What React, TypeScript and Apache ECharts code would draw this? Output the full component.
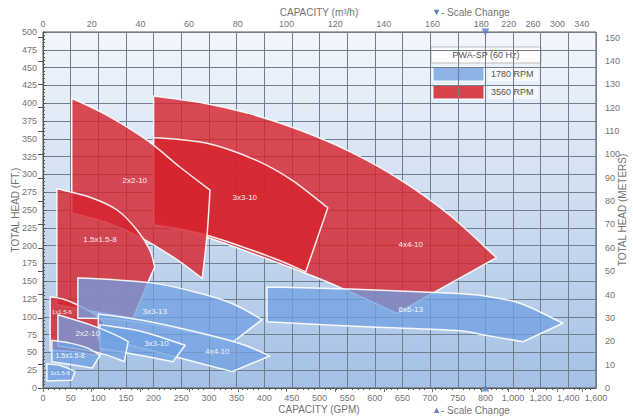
import React, { useEffect, useRef } from "react";
import * as echarts from "echarts";

const FONT = "'Liberation Sans', Arial, sans-serif";

// Bottom axis: GPM, with scale change at 800 (each 200 GPM = one column above 800)
const GPM_BREAK = 800;
const GPM_TICKS_LOW_STEP = 50;
// Top axis labels (m3/h)
const M3H_TICKS = [0, 20, 40, 60, 80, 100, 120, 140, 160, 180, 220, 260, 300, 340];
// Right axis labels (meters)
const METER_TICKS = [0, 10, 20, 30, 40, 50, 60, 70, 80, 90, 100, 110, 120, 130, 140, 150];

// 3560 RPM envelopes: [GPM, ft] (outline, clockwise from top-left)
const R_4x4_10 = [[200, 410], [285, 401], [375, 385], [465, 362], [555, 332], [645, 293], [735, 243], [880, 183], [640, 105], [535, 142], [465, 164], [375, 190], [295, 212], [200, 233]];
const R_3x3_10 = [[200, 352], [295, 344], [385, 320], [450, 292], [515, 253], [495, 208], [475, 163], [415, 183], [295, 215], [200, 229]];
const R_2x2_10 = [[52, 407], [116, 383], [188, 348], [248, 310], [302, 278], [297, 218], [288, 154], [235, 184], [175, 212], [116, 232], [52, 246]];
const R_15x15_8 = [[25, 280], [85, 268], [134, 250], [170, 222], [193, 194], [202, 170], [188, 145], [163, 98], [94, 107], [25, 117]];
const R_1x15_6 = [[13, 128], [40, 124], [67, 115], [94, 103], [110, 93], [107, 67], [103, 45], [58, 51], [13, 53]];

// 1780 RPM envelopes: [GPM, ft]
const B_6x6_13 = [[405, 142], [555, 139], [741, 133], [800, 129], [1050, 119], [1360, 91], [1072, 65], [800, 74], [741, 81], [555, 87], [405, 93]];
const B_3x3_13 = [[63, 155], [193, 148], [284, 133], [347, 117], [396, 96], [344, 65], [248, 82], [139, 96], [63, 98]];
const B_4x4_10 = [[100, 104], [193, 93], [302, 74], [365, 60], [410, 45], [342, 23], [248, 42], [157, 60], [100, 68]];
const B_3x3_10 = [[103, 89], [175, 80], [257, 60], [235, 37], [175, 46], [103, 56]];
const B_2x2_10 = [[27, 103], [85, 89], [130, 75], [154, 65], [147, 37], [103, 49], [27, 59]];
const B_15x15_8 = [[16, 67], [49, 63], [81, 56], [103, 46], [89, 28], [16, 37]];
const B_1x15_6 = [[7, 34], [34, 31], [58, 23], [52, 11], [7, 10]];

// corners: indices where the outline turns sharply (the rest is drawn smooth)
const RED_SHAPES = [
  { name: "4x4-10", pts: R_4x4_10, corners: [0, 7, 8, 13], label: [665, 201], size: 8 },
  { name: "3x3-10", pts: R_3x3_10, corners: [0, 4, 6, 9], label: [365, 267], size: 8 },
  { name: "2x2-10", pts: R_2x2_10, corners: [0, 4, 6, 10], label: [166, 292], size: 8 },
  { name: "1.5x1.5-8", pts: R_15x15_8, corners: [0, 5, 7, 9], label: [103, 208], size: 8 },
  { name: "1x1.5-6", pts: R_1x15_6, corners: [0, 4, 6, 8], label: [34, 107], size: 6 },
];
const BLUE_SHAPES = [
  { name: "6x6-13", pts: B_6x6_13, corners: [0, 5, 6, 10], label: [665, 110], size: 8 },
  { name: "3x3-13", pts: B_3x3_13, corners: [0, 4, 5, 8], label: [202, 107], size: 8 },
  { name: "4x4-10", pts: B_4x4_10, corners: [0, 4, 5, 8], label: [315, 51], size: 8 },
  { name: "3x3-10", pts: B_3x3_10, corners: [0, 2, 3, 5], label: [205, 63], size: 8 },
  { name: "2x2-10", pts: B_2x2_10, corners: [0, 3, 4, 6], label: [81, 76], size: 8 },
  { name: "1.5x1.5-8", pts: B_15x15_8, corners: [0, 3, 4, 5], label: [49, 46], size: 7 },
  { name: "1x1.5-6", pts: B_1x15_6, corners: [0, 2, 3, 4], label: [31, 21], size: 6 },
];

const gpmToAxis = (g: number) => (g <= GPM_BREAK ? g : GPM_BREAK + (g - GPM_BREAK) / 4);
const axisToGpm = (u: number) => (u <= GPM_BREAK ? u : GPM_BREAK + (u - GPM_BREAK) * 4);
const M3H_TO_GPM = 4.40287;
const FT_PER_M = 3.28084;

const fmt = (n: number) => {
  const r = Math.round(n);
  return r >= 1000 ? r.toString().replace(/\B(?=(\d{3})+(?!\d))/g, ",") : String(r);
};

const f2 = (p: number[]) => `${p[0].toFixed(2)},${p[1].toFixed(2)}`;

// Smooth outline (Catmull-Rom between corners) in pixel space
function buildPath(pts: number[][], corners: number[]) {
  const n = pts.length;
  let d = `M${f2(pts[0])}`;
  for (let c = 0; c < corners.length; c++) {
    const a = corners[c];
    const b = c + 1 < corners.length ? corners[c + 1] : n;
    const seg: number[][] = [];
    for (let i = a; i <= b; i++) seg.push(pts[i % n]);
    for (let i = 0; i < seg.length - 1; i++) {
      const p0 = seg[i - 1] || seg[i];
      const p1 = seg[i];
      const p2 = seg[i + 1];
      const p3 = seg[i + 2] || seg[i + 1];
      const c1 = [p1[0] + (p2[0] - p0[0]) / 6, p1[1] + (p2[1] - p0[1]) / 6];
      const c2 = [p2[0] - (p3[0] - p1[0]) / 6, p2[1] - (p3[1] - p1[1]) / 6];
      d += ` C${f2(c1)} ${f2(c2)} ${f2(p2)}`;
    }
  }
  return d + " Z";
}

function makeShapeSeries(shapes: any[], fill: string, stroke: string) {
  return {
    type: "custom",
    xAxisIndex: 0,
    yAxisIndex: 0,
    clip: true,
    data: shapes.map((s) => [gpmToAxis(s.label[0]), s.label[1]]),
    encode: { x: 0, y: 1 },
    renderItem: (params: any, api: any) => {
      const s = shapes[params.dataIndex];
      const points = s.pts.map((p: number[]) => api.coord([gpmToAxis(p[0]), p[1]]));
      const lp = api.coord([gpmToAxis(s.label[0]), s.label[1]]);
      return {
        type: "group",
        children: [
          {
            type: "path",
            shape: { pathData: buildPath(points, s.corners) },
            style: { fill, stroke, lineWidth: 1.5, lineJoin: "round" },
          },
          {
            type: "text",
            x: lp[0],
            y: lp[1],
            z2: 100,
            style: {
              text: s.name,
              fill: "#ffffff",
              font: `${s.size}px ${FONT}`,
              align: "center",
              verticalAlign: "middle",
              opacity: 0.95,
            },
          },
        ],
      };
    },
  };
}

export default function App() {
  const ref = useRef<HTMLDivElement>(null);
  useEffect(() => {
    if (!ref.current) return;
    const chart = echarts.init(ref.current, undefined, { renderer: "svg" });
    const topPos = M3H_TICKS.map((m) => gpmToAxis(m * M3H_TO_GPM));
    const topLabel = (v: number) => {
      let best = 0;
      let bd = Infinity;
      topPos.forEach((p, i) => {
        const d = Math.abs(p - v);
        if (d < bd) {
          bd = d;
          best = i;
        }
      });
      return String(M3H_TICKS[best]);
    };
    const gridColor = "#6f7d8c";
    const labelColor = "#747474";
    const option: any = {
      animation: false,
      backgroundColor: "#ffffff",
      textStyle: { fontFamily: FONT },
      grid: {
        left: 43,
        right: 37,
        top: 32,
        bottom: 31,
        show: true,
        borderColor: "#555",
        borderWidth: 1,
        backgroundColor: new echarts.graphic.LinearGradient(0, 0, 0, 1, [
          { offset: 0, color: "#f3f7fc" },
          { offset: 0.5, color: "#cddcf0" },
          { offset: 1, color: "#a4c0e6" },
        ]),
      },
      xAxis: [
        {
          type: "value",
          position: "bottom",
          min: 0,
          max: 1000,
          interval: GPM_TICKS_LOW_STEP,
          axisLine: { show: true, lineStyle: { color: "#555" } },
          axisTick: { show: false },
          minorTick: { show: true, splitNumber: 5, length: 2, lineStyle: { color: "#555" } },
          axisLabel: { color: labelColor, fontSize: 9, margin: 5, formatter: (v: number) => fmt(axisToGpm(v)) },
          splitLine: { show: true, lineStyle: { color: gridColor, width: 1 } },
        },
        {
          type: "value",
          position: "top",
          min: 0,
          max: 1000,
          axisLine: { show: true, lineStyle: { color: "#555" } },
          axisTick: { show: true, inside: true, length: 4, customValues: topPos, lineStyle: { color: "#777" } },
          axisLabel: { color: labelColor, fontSize: 9, margin: 4, customValues: topPos, formatter: topLabel },
          splitLine: { show: false },
        },
      ],
      yAxis: [
        {
          type: "value",
          position: "left",
          min: 0,
          max: 500,
          interval: 25,
          axisLine: { show: true, lineStyle: { color: "#555" } },
          axisTick: { show: true, inside: true, length: 3, lineStyle: { color: "#555" } },
          minorTick: { show: true, splitNumber: 5, length: 2, lineStyle: { color: "#555" } },
          axisLabel: { color: labelColor, fontSize: 9, margin: 6 },
          splitLine: { show: true, lineStyle: { color: gridColor, width: 1 } },
        },
        {
          type: "value",
          position: "right",
          min: 0,
          max: 500 / FT_PER_M,
          axisLine: { show: true, lineStyle: { color: "#555" } },
          axisTick: { show: true, inside: true, length: 5, customValues: METER_TICKS, lineStyle: { color: "#555" } },
          axisLabel: { color: labelColor, fontSize: 9, margin: 9, customValues: METER_TICKS },
          splitLine: { show: false },
        },
      ],
      series: [
        makeShapeSeries(RED_SHAPES, "rgba(214,36,46,0.82)", "rgba(255,255,255,0.9)"),
        makeShapeSeries(BLUE_SHAPES, "rgba(112,160,226,0.76)", "rgba(255,255,255,0.9)"),
        {
          type: "scatter",
          xAxisIndex: 0,
          yAxisIndex: 0,
          clip: false,
          symbol: "triangle",
          symbolSize: [8, 7],
          z: 10,
          itemStyle: { color: "#5a7fc4" },
          data: [
            { value: [GPM_BREAK, 500], symbolRotate: 180 },
            { value: [GPM_BREAK, 0] },
          ],
        },
      ],
      graphic: [
        {
          type: "text",
          x: 319,
          y: 12,
          style: { text: "CAPACITY (m³/h)", fill: labelColor, font: `10px ${FONT}`, align: "center", verticalAlign: "middle" },
        },
        {
          type: "text",
          x: 432,
          y: 12,
          style: {
            text: "{t|▼}- Scale Change",
            fill: labelColor,
            font: `10px ${FONT}`,
            align: "left",
            verticalAlign: "middle",
            rich: { t: { fill: "#5a7fc4", font: `9px ${FONT}` } },
          },
        },
        {
          type: "text",
          x: 319,
          y: 409,
          style: { text: "CAPACITY (GPM)", fill: labelColor, font: `10px ${FONT}`, align: "center", verticalAlign: "middle" },
        },
        {
          type: "text",
          x: 432,
          y: 410,
          style: {
            text: "{t|▲}- Scale Change",
            fill: labelColor,
            font: `10px ${FONT}`,
            align: "left",
            verticalAlign: "middle",
            rich: { t: { fill: "#5a7fc4", font: `9px ${FONT}` } },
          },
        },
        {
          type: "text",
          x: 15,
          y: 210,
          rotation: Math.PI / 2,
          style: { text: "TOTAL HEAD (FT.)", fill: labelColor, font: `10px ${FONT}`, align: "center", verticalAlign: "middle" },
        },
        {
          type: "text",
          x: 622,
          y: 210,
          rotation: Math.PI / 2,
          style: { text: "TOTAL HEAD (METERS)", fill: labelColor, font: `10px ${FONT}`, align: "center", verticalAlign: "middle" },
        },
        {
          type: "group",
          z: 50,
          children: [
            { type: "rect", shape: { x: 431, y: 47, width: 110, height: 16 }, style: { fill: "#ffffff", stroke: "#bbbbbb", lineWidth: 1 } },
            {
              type: "text",
              x: 486,
              y: 55,
              style: { text: "PWA-SP (60 Hz)", fill: "#555", font: `9px ${FONT}`, align: "center", verticalAlign: "middle" },
            },
            { type: "rect", shape: { x: 433, y: 67, width: 51, height: 14 }, style: { fill: "#8db3e6", stroke: "#ffffff", lineWidth: 1 } },
            { type: "rect", shape: { x: 433, y: 85, width: 51, height: 14 }, style: { fill: "#d8424a", stroke: "#ffffff", lineWidth: 1 } },
            { type: "rect", shape: { x: 488, y: 67, width: 50, height: 14 }, style: { fill: "rgba(255,255,255,0.55)" } },
            { type: "rect", shape: { x: 488, y: 85, width: 50, height: 14 }, style: { fill: "rgba(255,255,255,0.55)" } },
            {
              type: "text",
              x: 491,
              y: 74,
              style: { text: "1780 RPM", fill: "#555", font: `9px ${FONT}`, align: "left", verticalAlign: "middle" },
            },
            {
              type: "text",
              x: 491,
              y: 92,
              style: { text: "3560 RPM", fill: "#555", font: `9px ${FONT}`, align: "left", verticalAlign: "middle" },
            },
          ],
        },
      ],
    };
    chart.setOption(option);
    return () => chart.dispose();
  }, []);
  return <div ref={ref} style={{ position: "fixed", left: 0, top: 0, width: 633, height: 419 }} />;
}
